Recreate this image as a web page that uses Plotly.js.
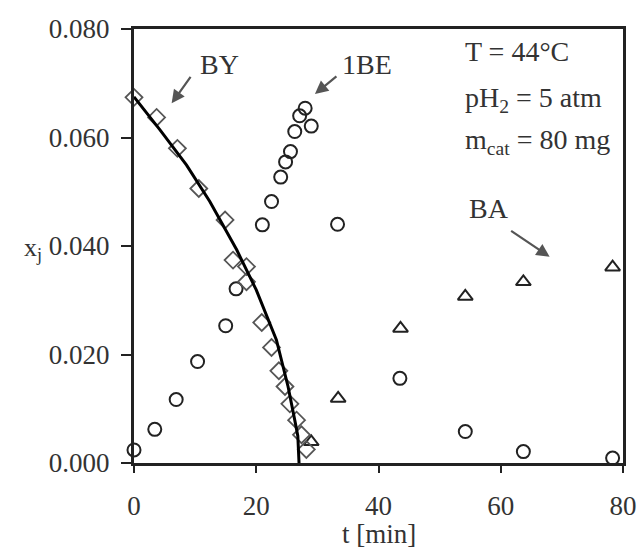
<!DOCTYPE html>
<html>
<head>
<meta charset="utf-8">
<script src="https://cdn.plot.ly/plotly-3.0.1.min.js"></script>
<style>html,body{margin:0;padding:0;background:#fff;}#chart{width:639px;height:552px;}</style>
</head>
<body>
<div id="chart"></div>
<script>
// BY (diamonds) experimental
const byT = [0, 3.7, 7.1, 10.6, 14.9, 16.2, 18.4, 18.4, 20.9, 22.5, 23.7, 24.7, 25.5, 26.6, 27.4, 28.2];
const byX = [0.0674, 0.0637, 0.0580, 0.0506, 0.0448, 0.0374, 0.0362, 0.0334, 0.0259, 0.0213, 0.0170, 0.0141, 0.0109, 0.0079, 0.0052, 0.0025];
// BY model curve
const byFitT = [0, 4.25, 8.6, 12.4, 16.8, 20.0, 23.3, 25.2, 26.3, 26.8, 27.0];
const byFitX = [0.0675, 0.0614, 0.0549, 0.0482, 0.0393, 0.0319, 0.0227, 0.0141, 0.0079, 0.0050, 0.0];
// 1BE (circles)
const beT = [0, 3.4, 6.9, 10.4, 15.0, 16.7, 21.0, 22.5, 24.0, 24.8, 25.6, 26.3, 27.1, 28.0, 29.0, 33.3, 43.5, 54.2, 63.7, 78.3];
const beX = [0.0024, 0.0062, 0.0117, 0.0187, 0.0253, 0.0321, 0.0439, 0.0482, 0.0527, 0.0555, 0.0574, 0.0611, 0.0640, 0.0654, 0.0621, 0.0440, 0.0156, 0.0058, 0.0021, 0.0009];
// BA (triangles)
const baT = [29.0, 33.4, 43.6, 54.2, 63.7, 78.3];
const baX = [0.0039, 0.0119, 0.0248, 0.0307, 0.0334, 0.0361];

const xTicks = [0, 20, 40, 60, 80];
const yTicks = [0.000, 0.020, 0.040, 0.060, 0.080];
const yTickText = ['0.000', '0.020', '0.040', '0.060', '0.080'];

const FONT = 'Liberation Serif, Times New Roman, serif';
const TXT = '#333';

const traces = [
  {x: beT, y: beX, mode: 'markers', type: 'scatter', cliponaxis: false,
   marker: {symbol: 'circle-open', size: 13, color: '#222', line: {width: 2, color: '#222'}}},
  {x: baT, y: baX, mode: 'markers', type: 'scatter', cliponaxis: false,
   marker: {symbol: 'triangle-up-open', size: 13, color: '#222', line: {width: 2, color: '#222'}}},
  {x: byT, y: byX, mode: 'markers', type: 'scatter', cliponaxis: false,
   marker: {symbol: 'diamond-open', size: 13, color: '#555', line: {width: 1.8, color: '#555'}}},
  {x: byFitT, y: byFitX, mode: 'lines', type: 'scatter', cliponaxis: false,
   line: {color: '#000', width: 3}}
];

function label(text, x, y, extra) {
  return Object.assign({text: text, x: x, y: y, xref: 'x', yref: 'y', showarrow: false,
    font: {family: FONT, size: 28, color: TXT}}, extra || {});
}
function arrow(x, y, ax, ay) {
  return {text: '', x: x, y: y, xref: 'x', yref: 'y', showarrow: true, ax: ax, ay: ay,
    arrowhead: 2, arrowsize: 1.2, arrowwidth: 2.2, arrowcolor: '#555'};
}

const layout = {
  width: 639, height: 552,
  margin: {l: 134, r: 16, t: 29, b: 89},
  paper_bgcolor: '#fff', plot_bgcolor: '#fff',
  showlegend: false,
  font: {family: FONT, size: 27, color: TXT},
  xaxis: {
    range: [0, 80], tickvals: xTicks, ticktext: xTicks.map(String),
    showgrid: false, zeroline: false, showline: true, mirror: true,
    linecolor: '#222', linewidth: 3, ticks: 'outside', ticklen: 7, tickwidth: 2, tickcolor: '#222',
    ticklabelstandoff: 10,
    tickfont: {family: FONT, size: 27, color: TXT}
  },
  yaxis: {
    range: [0, 0.08], tickvals: yTicks, ticktext: yTickText,
    showgrid: false, zeroline: false, showline: true, mirror: true,
    linecolor: '#222', linewidth: 3, ticks: 'outside', ticklen: 10, tickwidth: 2, tickcolor: '#222',
    ticklabelstandoff: 6,
    tickfont: {family: FONT, size: 27, color: TXT}
  },
  annotations: [
    label('BY', 14.05, 0.0735),
    label('1BE', 38.1, 0.0735),
    label('BA', 58.0, 0.0470),
    label('T = 44°C', 53.76, 0.0758, {xanchor: 'left'}),
    label('pH<sub>2</sub> = 5 atm', 53.76, 0.0670, {xanchor: 'left'}),
    label('m<sub>cat</sub> = 80 mg', 53.76, 0.0592, {xanchor: 'left'}),
    arrow(6.16, 0.0663, 20, -28),
    arrow(29.6, 0.0680, 23, -19),
    arrow(68.0, 0.0380, -40, -27),
    {text: 't [min]', xref: 'paper', yref: 'paper', x: 0.5, y: -0.163, yanchor: 'middle',
     showarrow: false, font: {family: FONT, size: 27, color: TXT}},
    {text: 'x<sub>j</sub>', xref: 'paper', yref: 'y', x: -0.229, y: 0.040, yanchor: 'middle',
     yshift: -3, showarrow: false, font: {family: FONT, size: 26, color: TXT}}
  ]
};

Plotly.newPlot('chart', traces, layout, {displayModeBar: false, staticPlot: true});
</script>
</body>
</html>
